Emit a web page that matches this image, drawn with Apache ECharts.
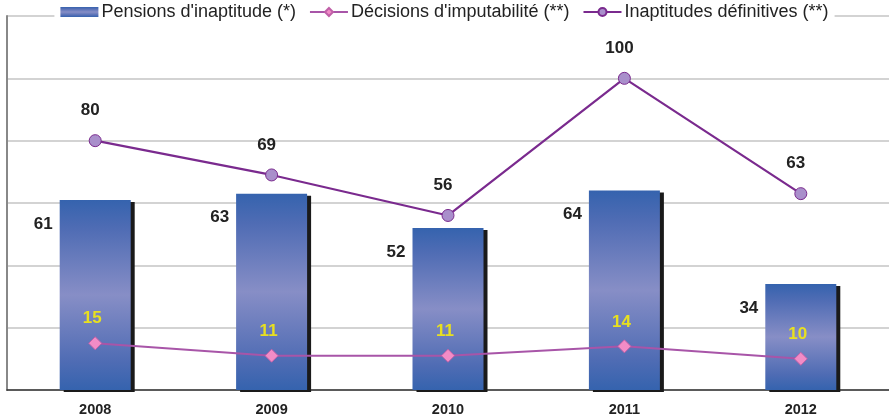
<!DOCTYPE html>
<html>
<head>
    <meta charset="utf-8">
    <title>ECharts</title>
    <script src="https://cdn.jsdelivr.net/npm/echarts@6/dist/echarts.min.js"></script>
    <style>
        html, body { margin: 0; padding: 0; background: #fff; }
    </style>
</head>
<body>
    <div id="main" style="width: 889px;height:418px;"></div>
    <script type="text/javascript">
        // données
        var years = ['2008', '2009', '2010', '2011', '2012'];
        var pensions = [61, 63, 52, 64, 34];
        var decisions = [15, 11, 11, 14, 10];
        var inaptitudes = [80, 69, 56, 100, 63];

        var myChart = echarts.init(document.getElementById('main'));

        var font = 'Liberation Sans, Arial, sans-serif';

        var option = {
            animation: false,
            backgroundColor: '#fff',
            legend: {
                top: 3,
                left: 'center',
                itemGap: 13,
                itemWidth: 38,
                itemHeight: 10,
                backgroundColor: '#fff',
                padding: [0, 6],
                textStyle: { fontFamily: font, fontSize: 18, color: '#222', padding: [0, 0, 0, -2] },
                data: [
                    { name: "Pensions d'inaptitude (*)", icon: 'rect' },
                    { name: "Décisions d'imputabilité (**)" },
                    { name: 'Inaptitudes définitives (**)' }
                ]
            },
            grid: { left: 7, right: -3, top: 16, bottom: 28 },
            xAxis: {
                type: 'category',
                data: years,
                axisTick: { show: false },
                axisLine: { lineStyle: { color: '#333', width: 1.5 } },
                axisLabel: {
                    margin: 12,
                    fontFamily: font, fontSize: 14.5, fontWeight: 'bold', color: '#222'
                }
            },
            yAxis: {
                type: 'value',
                min: 0, max: 120, interval: 20,
                axisLabel: { show: false },
                axisTick: { show: false },
                axisLine: { show: true, lineStyle: { color: '#888', width: 2 } },
                splitLine: { lineStyle: { color: '#c4c4c4', width: 1.5 } }
            },
            series: [{
                name: "Pensions d'inaptitude (*)",
                type: 'bar',
                barWidth: 71,
                data: pensions,
                itemStyle: {
                    color: new echarts.graphic.LinearGradient(0, 0, 0, 1, [
                        { offset: 0, color: '#3563ae' },
                        { offset: 0.15, color: '#4f6cb4' },
                        { offset: 0.5, color: '#878ec6' },
                        { offset: 0.85, color: '#4f6cb4' },
                        { offset: 1, color: '#3563ae' }
                    ]),
                    shadowColor: '#1a1a1a',
                    shadowOffsetX: 4,
                    shadowOffsetY: 2,
                    shadowBlur: 0
                },
                label: {
                    show: true,
                    position: [-7, 24],
                    align: 'right',
                    verticalAlign: 'middle',
                    fontFamily: font, fontSize: 17, fontWeight: 'bold', color: '#222'
                }
            }, {
                name: "Décisions d'imputabilité (**)",
                type: 'line',
                data: decisions,
                symbol: 'diamond',
                symbolSize: 13,
                lineStyle: { color: '#a855a8', width: 2 },
                itemStyle: { color: '#f28cc6', borderColor: '#c060a8', borderWidth: 1 },
                label: {
                    show: true,
                    position: 'top',
                    distance: 9,
                    offset: [-3, 0],
                    fontFamily: font, fontSize: 17, fontWeight: 'bold', color: '#e8e020'
                },
                z: 3
            }, {
                name: 'Inaptitudes définitives (**)',
                type: 'line',
                data: inaptitudes,
                symbol: 'circle',
                symbolSize: 12,
                lineStyle: { color: '#7a2a8e', width: 2.2 },
                itemStyle: { color: '#a98fcb', borderColor: '#7a2a8e', borderWidth: 1 },
                label: {
                    show: true,
                    position: 'top',
                    distance: 15,
                    offset: [-5, 0],
                    fontFamily: font, fontSize: 17, fontWeight: 'bold', color: '#222'
                },
                z: 3
            }]
        };

        myChart.setOption(option);
    </script>
</body>
</html>
